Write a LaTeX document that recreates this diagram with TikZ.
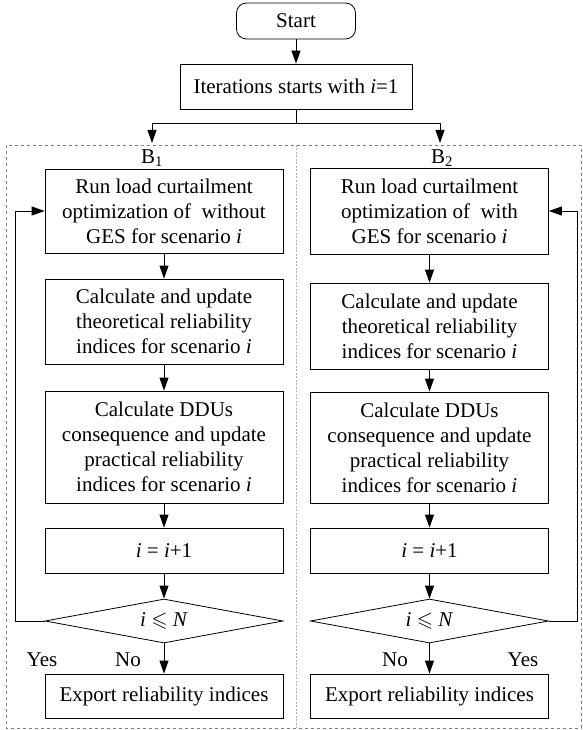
\documentclass[tikz,border=0pt]{standalone}
\usepackage{amssymb}
\usepackage{fontspec}
\setmainfont{Liberation Serif}
\usetikzlibrary{shapes.geometric,arrows.meta}

\tikzset{
  procbox/.style={draw,line width=0.8pt,align=center,inner sep=0pt,minimum width=238pt},
  testbox/.style={draw,diamond,line width=0.8pt,inner sep=0pt,aspect=5.4,minimum width=238pt,minimum height=44pt},
  flow/.style={line width=0.8pt,-{Triangle[length=13pt,width=9pt]}},
  plain/.style={line width=0.8pt},
  frame/.style={gray,dashed,line width=0.6pt}
}

\begin{document}
\begin{tikzpicture}[x=1pt,y=-1pt,font=\fontsize{21}{25}\selectfont]
        \useasboundingbox (0,0) rectangle (582,730);

        \draw[frame] (6,145) rectangle (581,728);
        \draw[gray!60,dash pattern=on 2pt off 1.5pt,line width=0.6pt] (296,145) -- (296,728);

        \node (start) at (296,21)   [draw,rounded corners=10pt,line width=0.8pt,minimum width=119pt,minimum height=36pt] {Start};
        \node (iter)  at (296,86.5) [procbox,minimum width=232pt,minimum height=45pt] {Iterations starts with \textit{i}=1};
        \coordinate (split) at (296,123);
        \coordinate (Lin)   at (152,143);
        \coordinate (Rin)   at (440,143);

        \node (Blabel1) at (152,158) {B\textsubscript{1}};
        \node (Blabel2) at (442,158) {B\textsubscript{2}};

        % left branch
        \node (Lrun)    at (164,211)   [procbox,minimum height=84pt]  {Run load curtailment\\optimization of \ without\\GES for scenario \textit{i}};
        \node (Ltheo)   at (164,321.5) [procbox,minimum height=85pt]  {Calculate and update\\theoretical reliability\\indices for scenario \textit{i}};
        \node (Lprac)   at (164,447)   [procbox,minimum height=112pt] {Calculate DDUs\\consequence and update\\practical reliability\\indices for scenario \textit{i}};
        \node (Linc)    at (164,550.5) [procbox,minimum height=45pt]  {\textit{i} = \textit{i}+1};
        \node (Lcheck)  at (164,621)   [testbox] {\textit{i} $\leqslant$ \textit{N}};
        \node (Lexport) at (164,696)   [procbox,minimum height=44pt]  {Export reliability indices};

        % right branch
        \node (Rrun)    at (429.5,211)   [procbox,minimum height=86pt]  {Run load curtailment\\optimization of \ with\\GES for scenario \textit{i}};
        \node (Rtheo)   at (429.5,326)   [procbox,minimum height=86pt]  {Calculate and update\\theoretical reliability\\indices for scenario \textit{i}};
        \node (Rprac)   at (429.5,447.5) [procbox,minimum height=111pt] {Calculate DDUs\\consequence and update\\practical reliability\\indices for scenario \textit{i}};
        \node (Rinc)    at (429.5,550.5) [procbox,minimum height=45pt]  {\textit{i} = \textit{i}+1};
        \node (Rcheck)  at (429.5,621)   [testbox] {\textit{i} $\leqslant$ \textit{N}};
        \node (Rexport) at (429.5,696)   [procbox,minimum height=44pt]  {Export reliability indices};

        \node (Lyes) at (42,660)  {Yes};
        \node (Lno)  at (128,660) {No};
        \node (Rno)  at (395,660) {No};
        \node (Ryes) at (523,660) {Yes};

        \draw[flow] (start) -- (iter);
        \draw[plain] (iter) -- (split);
        \draw[flow] (split) -| (Lin);
        \draw[flow] (split) -| (Rin);

        \draw[flow] (Lrun) -- (Ltheo);
        \draw[flow] (Ltheo) -- (Lprac);
        \draw[flow] (Lprac) -- (Linc);
        \draw[flow] (Linc) -- (Lcheck);
        \draw[flow] (Lcheck) -- (Lexport);
        \draw[flow] (Lcheck.west) -- ++(-29,0) |- (Lrun.west);

        \draw[flow] (Rrun) -- (Rtheo);
        \draw[flow] (Rtheo) -- (Rprac);
        \draw[flow] (Rprac) -- (Rinc);
        \draw[flow] (Rinc) -- (Rcheck);
        \draw[flow] (Rcheck) -- (Rexport);
        \draw[flow] (Rcheck.east) -- ++(28.5,0) |- (Rrun.east);
\end{tikzpicture}
\end{document}
